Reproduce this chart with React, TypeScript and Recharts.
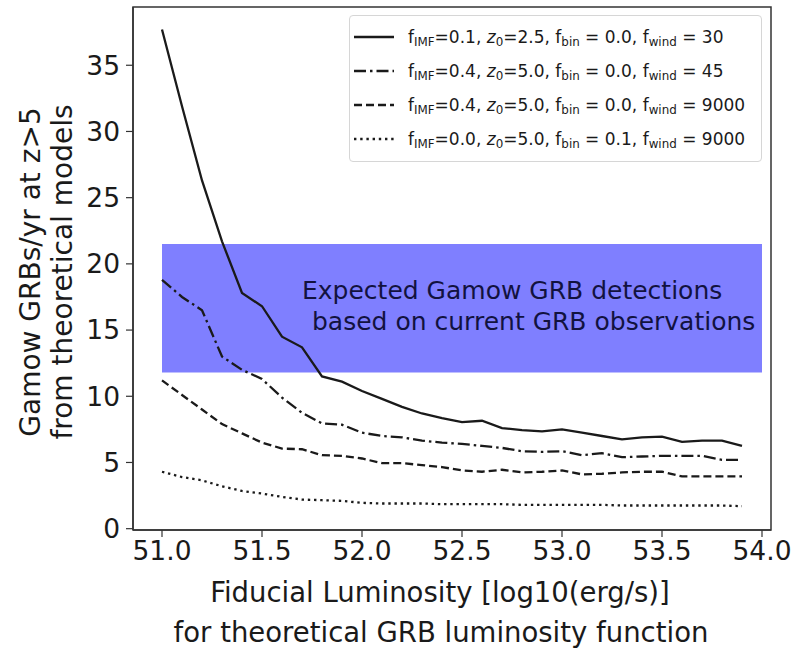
import React from 'react'
import { LineChart, Line, XAxis, YAxis, ReferenceArea, Label, Legend } from 'recharts'

// log10 fiducial luminosity (erg/s)
const LUMINOSITY = [
  51.0, 51.1, 51.2, 51.3, 51.4, 51.5, 51.6, 51.7, 51.8, 51.9,
  52.0, 52.1, 52.2, 52.3, 52.4, 52.5, 52.6, 52.7, 52.8, 52.9,
  53.0, 53.1, 53.2, 53.3, 53.4, 53.5, 53.6, 53.7, 53.8, 53.9,
]

// GRBs/yr at z>5 for each model
const RATE_WIND30 = [
  37.7, 31.9, 26.3, 21.7, 17.8, 16.8, 14.5, 13.7, 11.5, 11.1,
  10.4, 9.8, 9.2, 8.7, 8.35, 8.05, 8.15, 7.6, 7.45, 7.35,
  7.5, 7.25, 7.0, 6.75, 6.9, 6.95, 6.55, 6.65, 6.65, 6.25,
]
const RATE_WIND45 = [
  18.8, 17.5, 16.5, 13.0, 12.0, 11.3, 9.9, 8.75, 7.95, 7.85,
  7.25, 7.0, 6.9, 6.65, 6.5, 6.4, 6.25, 6.1, 5.85, 5.8,
  5.85, 5.55, 5.7, 5.4, 5.45, 5.5, 5.5, 5.5, 5.2, 5.2,
]
const RATE_WIND9000 = [
  11.2, 10.1, 9.0, 7.9, 7.2, 6.5, 6.05, 6.0, 5.55, 5.5,
  5.3, 4.95, 4.95, 4.8, 4.65, 4.4, 4.3, 4.45, 4.25, 4.3,
  4.4, 4.1, 4.15, 4.25, 4.3, 4.3, 3.95, 3.95, 3.95, 3.95,
]
const RATE_BIN01 = [
  4.3, 3.9, 3.65, 3.2, 2.85, 2.65, 2.4, 2.2, 2.15, 2.1,
  1.95, 1.9, 1.9, 1.9, 1.85, 1.85, 1.85, 1.85, 1.8, 1.8,
  1.8, 1.8, 1.8, 1.75, 1.75, 1.75, 1.75, 1.75, 1.75, 1.7,
]

// model parameters shown in the legend
const MODEL_IMF = ['0.1', '0.4', '0.4', '0.0']
const MODEL_Z0 = ['2.5', '5.0', '5.0', '5.0']
const MODEL_BIN = ['0.0', '0.0', '0.0', '0.1']
const MODEL_WIND = ['30', '45', '9000', '9000']

// expected detection band from current observations
const BAND_X = [51.0, 54.0]
const BAND_Y = [11.8, 21.5]

const X_TICKS = [51.0, 51.5, 52.0, 52.5, 53.0, 53.5, 54.0]
const Y_TICKS = [0, 5, 10, 15, 20, 25, 30, 35]
const X_DOMAIN = [50.855, 54.045]
const Y_DOMAIN = [-0.1, 39.4]

const data = LUMINOSITY.map((lum, i) => ({
  lum,
  wind30: RATE_WIND30[i],
  wind45: RATE_WIND45[i],
  wind9000: RATE_WIND9000[i],
  bin01: RATE_BIN01[i],
}))

const series = [
  { key: 'wind30', dash: undefined },
  { key: 'wind45', dash: '12 4 2.5 4' },
  { key: 'wind9000', dash: '8 4' },
  { key: 'bin01', dash: '2.4 3.8' },
]

const FONT = '"DejaVu Sans", sans-serif'
const INK = '#1a1a1a'
const SPINE = '#333'

const subStyle: React.CSSProperties = { fontSize: '0.7em', verticalAlign: '-0.22em', lineHeight: 0 }

function ModelLegend() {
  return (
    <div
      style={{
        border: '1px solid #d6d6d6',
        borderRadius: 4,
        background: 'rgba(255,255,255,0.85)',
        padding: '4px 0 5px 4px',
        fontFamily: FONT,
        fontSize: 17,
        color: INK,
      }}
    >
      {series.map((s, i) => (
        <div key={s.key} style={{ display: 'flex', alignItems: 'center', height: 34 }}>
          <svg width={40} height={10} style={{ marginRight: 14, flexShrink: 0 }}>
            <line x1={0} y1={5} x2={40} y2={5} stroke={INK} strokeWidth={2.3} strokeDasharray={s.dash} />
          </svg>
          <span style={{ whiteSpace: 'nowrap' }}>
            f<sub style={subStyle}>IMF</sub>={MODEL_IMF[i]}, <i>z</i>
            <sub style={subStyle}>0</sub>={MODEL_Z0[i]}, f<sub style={subStyle}>bin</sub> = {MODEL_BIN[i]}, f
            <sub style={subStyle}>wind</sub> = {MODEL_WIND[i]}
          </span>
        </div>
      ))}
    </div>
  )
}

const YTitle = () => (
  <g fontFamily={FONT} fontSize={28} fill={INK}>
    <text x={30} y={272} transform="rotate(-90 30 272)" textAnchor="middle" dominantBaseline="central">
      Gamow GRBs/yr at z&gt;5
    </text>
    <text x={62} y={272} transform="rotate(-90 62 272)" textAnchor="middle" dominantBaseline="central">
      from theoretical models
    </text>
  </g>
)

const XTitle = () => (
  <g fontFamily={FONT} fontSize={27.5} fill={INK}>
    <text x={440} y={592} textAnchor="middle" dominantBaseline="central">
      Fiducial Luminosity [log10(erg/s)]
    </text>
    <text x={441} y={632} textAnchor="middle" dominantBaseline="central">
      for theoretical GRB luminosity function
    </text>
  </g>
)

const BandText = (props: any) => {
  const vb = props.viewBox || { x: 0, y: 0 }
  return (
    <g fontFamily={FONT} fontSize={25} fill="#12123f">
      <text x={vb.x + 140} y={vb.y + 55}>Expected Gamow GRB detections</text>
      <text x={vb.x + 150} y={vb.y + 86}>based on current GRB observations</text>
    </g>
  )
}

export default function App() {
  const tick = { fontSize: 26.5, fill: INK, fontFamily: FONT }
  return (
    <div style={{ position: 'absolute', left: 0, top: 0, background: '#fff' }}>
      <LineChart
        width={794}
        height={654}
        data={data}
        margin={{ top: 7, right: 23, bottom: 84, left: 73 }}
      >
        <XAxis
          dataKey="lum"
          type="number"
          domain={X_DOMAIN}
          ticks={X_TICKS}
          interval={0}
          allowDataOverflow
          tickFormatter={(v: number) => v.toFixed(1)}
          tick={tick}
          tickSize={7}
          tickMargin={4}
          height={40}
          axisLine={{ stroke: SPINE, strokeWidth: 1.5 }}
          tickLine={{ stroke: SPINE, strokeWidth: 1.2 }}
        >
          <Label content={<XTitle />} />
        </XAxis>
        <YAxis
          type="number"
          domain={Y_DOMAIN}
          ticks={Y_TICKS}
          interval={0}
          allowDataOverflow
          tick={tick}
          tickSize={7}
          tickMargin={6}
          width={60}
          axisLine={{ stroke: SPINE, strokeWidth: 1.5 }}
          tickLine={{ stroke: SPINE, strokeWidth: 1.2 }}
        >
          <Label content={<YTitle />} />
        </YAxis>
        <ReferenceArea
          x1={BAND_X[0]}
          x2={BAND_X[1]}
          y1={BAND_Y[0]}
          y2={BAND_Y[1]}
          fill="#0000ff"
          fillOpacity={0.5}
          stroke="none"
        >
          <Label content={<BandText />} />
        </ReferenceArea>
        <ReferenceArea
          x1={X_DOMAIN[0]}
          x2={X_DOMAIN[1]}
          y1={Y_DOMAIN[0]}
          y2={Y_DOMAIN[1]}
          fill="none"
          stroke={SPINE}
          strokeWidth={1.5}
        />
        {series.map((s) => (
          <Line
            key={s.key}
            type="linear"
            dataKey={s.key}
            stroke={INK}
            strokeWidth={2.3}
            strokeDasharray={s.dash}
            dot={false}
            isAnimationActive={false}
          />
        ))}
        <Legend
          layout="vertical"
          align="center"
          verticalAlign="middle"
          content={() => <ModelLegend />}
          wrapperStyle={{ left: 349, top: 15, width: 413, height: 'auto' }}
        />
      </LineChart>
    </div>
  )
}
